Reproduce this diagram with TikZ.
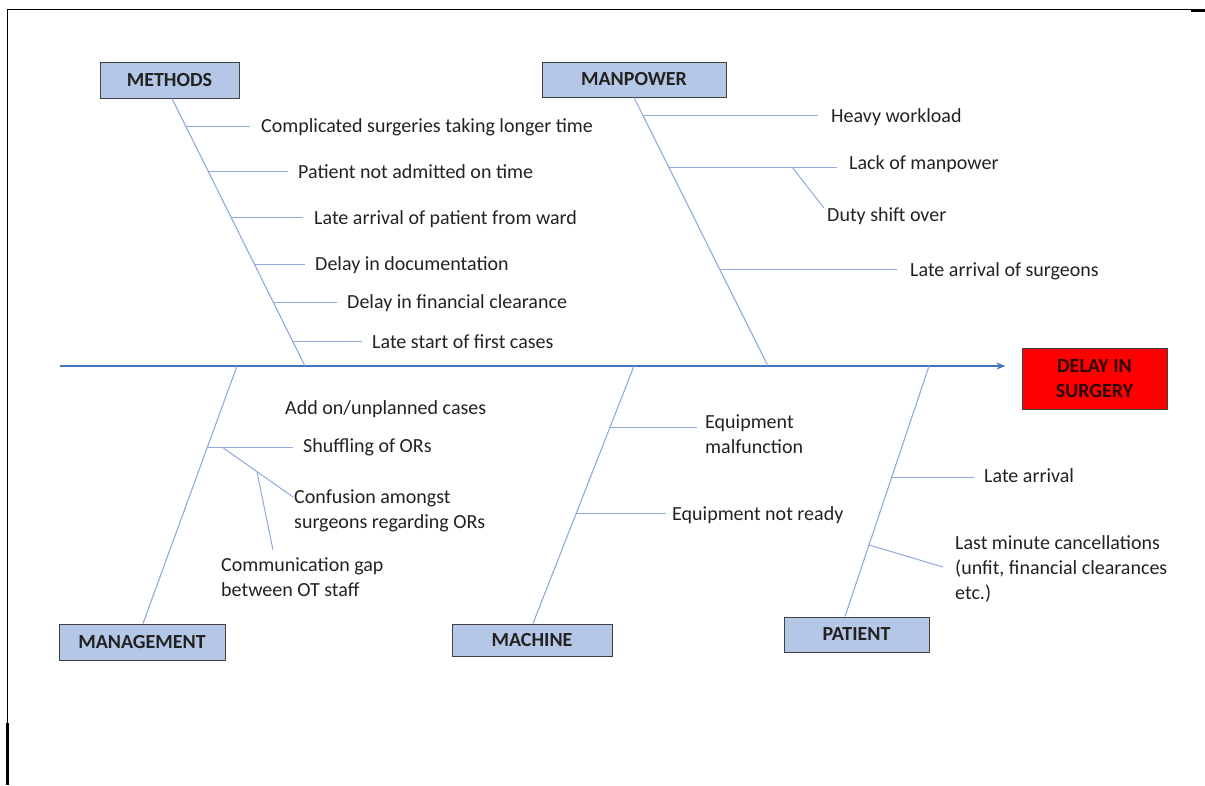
\documentclass[tikz,border=0pt]{standalone}
\usepackage{fontspec}
\setmainfont{Carlito}
\usetikzlibrary{arrows.meta}
\definecolor{bonec}{HTML}{8FAADC}
\definecolor{spinec}{HTML}{4472C4}
\definecolor{boxfill}{HTML}{B4C7E7}
\definecolor{boxline}{HTML}{404040}
\definecolor{txt}{HTML}{222222}
\definecolor{delaytxt}{HTML}{2A0808}
\begin{document}
\begin{tikzpicture}[x=1pt,y=-1pt,
  catbox/.style={draw=boxline, line width=1pt, fill=boxfill, inner sep=0pt,
    font=\fontsize{20}{24}\selectfont\bfseries, text=txt},
  cause/.style={anchor=base west, inner sep=0pt, font=\fontsize{20}{25}\selectfont,
    text=txt, align=left},
  bone/.style={draw=bonec, line width=1.1pt},
  twig/.style={draw=bonec, line width=1pt},
  spine/.style={draw=spinec, line width=1.4pt},
  frameline/.style={draw=black, line width=1.6pt},
  thickframe/.style={draw=black, line width=3pt}
]
\useasboundingbox (0,0) rectangle (1205,785);

% frame
\coordinate (fTL) at (7.5,9.5);
\coordinate (fTR) at (1191,9.5);
\coordinate (fTR2) at (1205,10.5);
\coordinate (fTRa) at (1191,10.5);
\coordinate (fBL) at (7.5,723);
\coordinate (fBLa) at (7.8,723);
\coordinate (fBL2) at (7.8,785);
\draw[frameline] (fBL) -- (fTL) -- (fTR);
\draw[thickframe] (fTRa) -- (fTR2);
\draw[thickframe] (fBLa) -- (fBL2);

% category boxes
\node[catbox, minimum width=139pt, minimum height=36pt] (meth) at (169.5,80) {METHODS};
\node[catbox, minimum width=184pt, minimum height=35pt] (manp) at (634,79.5) {MANPOWER};
\node[catbox, minimum width=166pt, minimum height=36pt] (mgmt) at (142,642) {MANAGEMENT};
\node[catbox, minimum width=160pt, minimum height=32pt] (mach) at (532,640) {MACHINE};
\node[catbox, minimum width=145pt, minimum height=35pt] (pat) at (856.5,634.5) {PATIENT};
\node[draw=boxline, line width=1pt, fill=red, inner sep=0pt, minimum width=145pt,
  minimum height=61pt, align=center, text=delaytxt,
  font=\fontsize{20}{25}\selectfont\bfseries] (delay) at (1094.5,378.5) {DELAY IN\\SURGERY};

% spine
\coordinate (spS) at (60,366);
\draw[spine, -{Stealth[length=9pt,width=7pt]}, shorten >=16pt] (spS) -- (delay.west |- spS);

% bone ends on spine
\coordinate (methE) at (305,366);
\coordinate (manpE) at (768,366);
\coordinate (mgmtE) at (237,366);
\coordinate (machE) at (634,366);
\coordinate (patE) at (929,366);

\draw[bone] ([xshift=2.5pt]meth.south) -- (methE);
\draw[bone] (manp.south) -- (manpE);
\draw[bone] ([xshift=1pt]mgmt.north) -- (mgmtE);
\draw[bone] ([xshift=1pt]mach.north) -- (machE);
\draw[bone] ([xshift=-11.5pt]pat.north) -- (patE);

% METHODS causes
\node[cause] (m1) at (261,132.5) {Complicated surgeries taking longer time};
\node[cause] (m2) at (298,178.5) {Patient not admitted on time};
\node[cause] (m3) at (314,224.5) {Late arrival of patient from ward};
\node[cause] (m4) at (315,270.5) {Delay in documentation};
\node[cause] (m5) at (347,308.5) {Delay in financial clearance};
\node[cause] (m6) at (372,348.5) {Late start of first cases};
\coordinate (m1a) at (186,126); \coordinate (m1b) at (250,126);
\coordinate (m2a) at (208,171); \coordinate (m2b) at (288,171);
\coordinate (m3a) at (231,217); \coordinate (m3b) at (303,217);
\coordinate (m4a) at (254,264); \coordinate (m4b) at (305,264);
\coordinate (m5a) at (273,302); \coordinate (m5b) at (337,302);
\coordinate (m6a) at (293,341); \coordinate (m6b) at (362,341);
\foreach \i in {1,...,6} {\draw[twig] (m\i a) -- (m\i b);}

% MANPOWER causes
\node[cause] (p1) at (831,122.5) {Heavy workload};
\node[cause] (p2) at (849,169.5) {Lack of manpower};
\node[cause] (p3) at (827,221.5) {Duty shift over};
\node[cause] (p4) at (910,276.5) {Late arrival of surgeons};
\coordinate (p1a) at (643,115); \coordinate (p1b) at (818,115);
\coordinate (p2a) at (669,167); \coordinate (p2b) at (837,167);
\coordinate (p3a) at (792,167); \coordinate (p3b) at (824,208);
\coordinate (p4a) at (720,269); \coordinate (p4b) at (897,269);
\foreach \i in {1,...,4} {\draw[twig] (p\i a) -- (p\i b);}

% MANAGEMENT causes
\node[cause] (g1) at (285,414.5) {Add on/unplanned cases};
\node[cause] (g2) at (303,452.5) {Shuffling of ORs};
\node[cause] (g3) at (294,528.5) {Confusion amongst\\surgeons regarding ORs};
\node[cause] (g4) at (221,596.5) {Communication gap\\between OT staff};
\coordinate (g2a) at (208,447); \coordinate (g2b) at (293,447);
\coordinate (g3a) at (222,447); \coordinate (g3b) at (293,497);
\coordinate (g4a) at (257,472); \coordinate (g4b) at (273,550);
\foreach \i in {2,3,4} {\draw[twig] (g\i a) -- (g\i b);}

% MACHINE causes
\node[cause] (c1) at (705,453.5) {Equipment\\malfunction};
\node[cause] (c2) at (672,520.5) {Equipment not ready};
\coordinate (c1a) at (610,427); \coordinate (c1b) at (697,427);
\coordinate (c2a) at (576,513); \coordinate (c2b) at (666,513);
\foreach \i in {1,2} {\draw[twig] (c\i a) -- (c\i b);}

% PATIENT causes
\node[cause] (t1) at (984,482.5) {Late arrival};
\node[cause] (t2) at (955,599.5) {Last minute cancellations\\(unfit, financial clearances\\etc.)};
\coordinate (t1a) at (892,477); \coordinate (t1b) at (974,477);
\coordinate (t2a) at (869,545); \coordinate (t2b) at (943,567);
\foreach \i in {1,2} {\draw[twig] (t\i a) -- (t\i b);}
\end{tikzpicture}
\end{document}
